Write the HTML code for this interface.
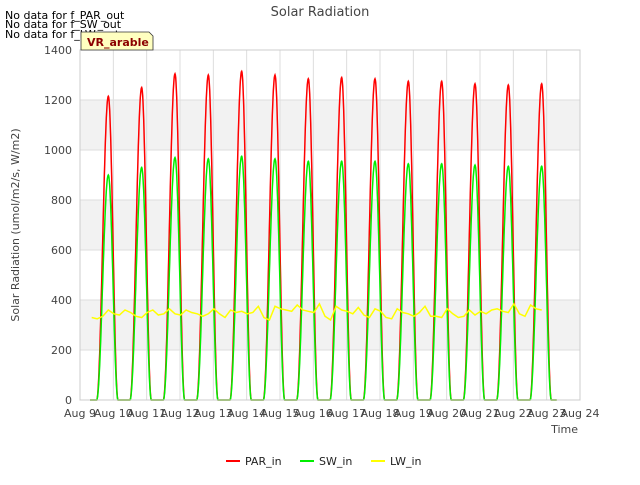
<!DOCTYPE html>
<html><head><meta charset="utf-8"><style>
body{margin:0;background:#fff;font-family:"Liberation Sans","DejaVu Sans",sans-serif}
svg text{font-family:"DejaVu Sans","Liberation Sans",sans-serif}
</style></head><body>
<svg id="c" width="640" height="480" viewBox="0 0 640 480">
<rect x="0" y="0" width="640" height="480" fill="#fff"/>
<g id="bands"></g>
<g id="grid"></g>
<g id="series"></g>
<g id="axes"></g>
<text x="320" y="16" text-anchor="middle" font-size="13" fill="#444">Solar Radiation</text>
<text x="19" y="225" text-anchor="middle" font-size="11" fill="#444" transform="rotate(-90 19 225)">Solar Radiation (umol/m2/s, W/m2)</text>
<text x="578" y="433" text-anchor="end" font-size="11" fill="#444">Time</text>
<text x="5" y="19" font-size="11" fill="#000">No data for f_PAR_out</text>
<text x="5" y="28" font-size="11" fill="#000">No data for f_SW_out</text>
<text x="5" y="38" font-size="11" fill="#000">No data for f_LW_out</text>
<g>
<path d="M81,32 L149,32 L153,36 L153,50 L81,50 Z" fill="#ffffc0" stroke="#333" stroke-width="0.8"/>
<text x="87" y="46" font-size="11" font-weight="bold" fill="#8b0000">VR_arable</text>
</g>
<g>
<line x1="226" y1="461" x2="240" y2="461" stroke="#f00" stroke-width="2"/>
<text x="245" y="465" font-size="11" fill="#222">PAR_in</text>
<line x1="300" y1="461" x2="314" y2="461" stroke="#0e0" stroke-width="2"/>
<text x="319" y="465" font-size="11" fill="#222">SW_in</text>
<line x1="371" y1="461" x2="385" y2="461" stroke="#ff0" stroke-width="2"/>
<text x="390" y="465" font-size="11" fill="#222">LW_in</text>
</g>
</svg>
<script>
const xTickLabels=["Aug 9","Aug 10","Aug 11","Aug 12","Aug 13","Aug 14","Aug 15","Aug 16","Aug 17","Aug 18","Aug 19","Aug 20","Aug 21","Aug 22","Aug 23","Aug 24"];
const yTicks=[0,200,400,600,800,1000,1200,1400];
const parPeaks=[1215,1250,1305,1300,1315,1300,1285,1290,1285,1275,1275,1265,1260,1265];
const swPeaks=[900,930,970,965,975,965,955,955,955,945,945,940,935,935];
const lwValues=[330,325,335,360,345,340,360,350,335,330,350,360,340,345,365,345,340,360,350,345,335,345,365,345,330,360,350,355,345,350,375,330,320,375,365,360,355,380,360,355,350,385,335,320,375,360,355,345,370,340,330,365,355,330,325,365,350,345,335,350,375,335,335,330,365,345,330,335,360,340,355,345,360,365,355,350,385,345,335,380,365,360];
const lwStart=0.35, lwStep=1/6;
const X0=80,X1=580,Y0=400,Y1=50;
const xs=d=>X0+d*(X1-X0)/15;
const ys=v=>Y0-v*(Y0-Y1)/1400;
const ns="http://www.w3.org/2000/svg";
function mk(t,a,p){const e=document.createElementNS(ns,t);for(const k in a)e.setAttribute(k,a[k]);document.getElementById(p).appendChild(e);return e;}
for(let i=0;i<yTicks.length-1;i++){if(i%2===1){const b=mk('rect',{x:X0,y:ys(yTicks[i+1]),width:X1-X0,height:ys(yTicks[i])-ys(yTicks[i+1]),fill:'#f2f2f2'},'bands');}}
yTicks.forEach(v=>{const l=mk('line',{x1:X0,x2:X1,y1:ys(v),y2:ys(v),stroke:'#ddd','stroke-width':1},'grid');
const t=mk('text',{x:X0-8,y:ys(v)+4,'text-anchor':'end','font-size':11,fill:'#444'},'axes');t.textContent=v;});
xTickLabels.forEach((s,i)=>{const l=mk('line',{x1:xs(i),x2:xs(i),y1:Y1,y2:Y0,stroke:'#ddd','stroke-width':1},'grid');
const t=mk('text',{x:xs(i),y:Y0+17,'text-anchor':'middle','font-size':11,fill:'#444'},'axes');t.textContent=s;});
const fr=mk('rect',{x:X0,y:Y1,width:X1-X0,height:Y0-Y1,fill:'none',stroke:'#ccc'},'axes');
function diurnal(peaks){let pts=[];const step=0.01;for(let t=0.3;t<=14.3;t+=step){const day=Math.floor(t);const ph=t-day;let v=0;const rise=0.5,set=1.18,pk=0.85;
if(day<peaks.length){if(ph>=rise&&ph<=pk)v=peaks[day]*Math.pow(Math.sin((ph-rise)/(pk-rise)*Math.PI/2),2);else if(ph>pk&&ph<=set-0.04)v=peaks[day]*Math.pow(Math.cos((ph-pk)/(set-0.04-pk)*Math.PI/2),2);}
if(day>0&&ph<0.18&&day-1<peaks.length){const p2=ph+1;if(p2<=set-0.04)v=peaks[day-1]*Math.pow(Math.cos((p2-pk)/(set-0.04-pk)*Math.PI/2),2);}
pts.push(xs(t).toFixed(1)+','+ys(v).toFixed(1));}return pts.join(' ');}
const par=mk('polyline',{points:diurnal(parPeaks),fill:'none',stroke:'#f00','stroke-width':1.5},'series');
const sw=mk('polyline',{points:diurnal(swPeaks),fill:'none',stroke:'#0e0','stroke-width':1.5},'series');
const lw=mk('polyline',{points:lwValues.map((v,i)=>xs(lwStart+i*lwStep).toFixed(1)+','+ys(v).toFixed(1)).join(' '),fill:'none',stroke:'#ff0','stroke-width':1.5},'series');
</script>
</body></html>
